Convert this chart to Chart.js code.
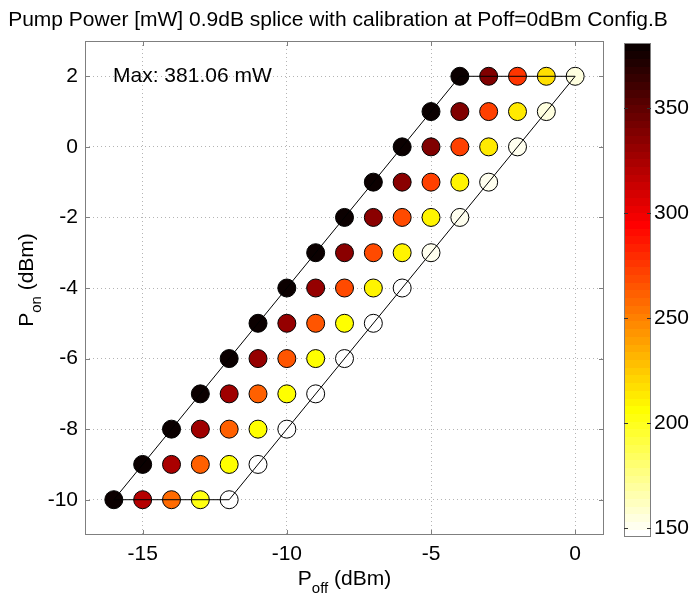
<!DOCTYPE html>
<html>
<head>
<meta charset="utf-8">
<script src="https://cdn.jsdelivr.net/npm/chart.js@4.4.0/dist/chart.umd.min.js"></script>
<style>
  html, body { margin: 0; padding: 0; background: #fff; }
  #wrap { width: 692px; height: 598px; }
</style>
</head>
<body>
<div id="wrap"><canvas id="pumpChart" width="692" height="598"></canvas></div>
<script>
// P_on levels (dBm), one row of measurements each
const pOnLevels = [-10, -9, -8, -7, -6, -5, -4, -3, -2, -1, 0, 1, 2];

// P_off values (dBm) for each row
const pOffRows = [
    [-16, -15, -14, -13, -12],
    [-15, -14, -13, -12, -11],
    [-14, -13, -12, -11, -10],
    [-13, -12, -11, -10, -9],
    [-12, -11, -10, -9, -8],
    [-11, -10, -9, -8, -7],
    [-10, -9, -8, -7, -6],
    [-9, -8, -7, -6, -5],
    [-8, -7, -6, -5, -4],
    [-7, -6, -5, -4, -3],
    [-6, -5, -4, -3, -2],
    [-5, -4, -3, -2, -1],
    [-4, -3, -2, -1, 0]
];

// pump power (mW), same layout as pOffRows
const pumpPowerRows = [
    [378, 322, 258, 204, 146],
    [379, 325, 260, 205, 147],
    [379, 326, 262, 206, 147],
    [380, 328, 263, 206, 148],
    [380, 330, 265, 207, 148],
    [380, 333, 267, 208, 149],
    [381, 333, 268, 209, 149],
    [381, 334, 269, 209, 150],
    [381, 335, 270, 210, 150],
    [381, 336, 271, 211, 151],
    [381, 337, 272, 212, 152],
    [381, 338, 274, 214, 154],
    [381.06, 340, 275, 216, 156]
];

// outline of the measured region
const outlineX = [-16, -4, 0, -12, -16];
const outlineY = [-10, 2, 2, -10, -10];

const xTicks = [-15, -10, -5, 0];
const yTicks = [-10, -8, -6, -4, -2, 0, 2];
const cbarTicks = [150, 200, 250, 300, 350];
const cMin = 145.7;
const cMax = 381.06;
const maxLabel = 'Max: 381.06 mW';

const fontFam = '"Liberation Sans", Arial, Helvetica, sans-serif';
const fs = 21;

// matlab hot(64), flipped so the max is black
function hotRgb(h) {
    const n = 24;
    const r = h < n ? (h + 1) / n : 1;
    const g = h < n ? 0 : (h < 2 * n ? (h - n + 1) / n : 1);
    const b = h < 2 * n ? 0 : (h - 2 * n + 1) / (64 - 2 * n);
    return 'rgb(' + Math.round(r * 255) + ',' + Math.round(g * 255) + ',' + Math.round(b * 255) + ')';
}
function colorFor(v) {
    let k = Math.floor((v - cMin) / (cMax - cMin) * 64);
    k = Math.max(0, Math.min(63, k));
    return hotRgb(63 - k);
}

const points = [];
const colors = [];
pOnLevels.forEach((y, i) => {
    pOffRows[i].forEach((x, j) => {
        points.push({ x: x, y: y });
        colors.push(colorFor(pumpPowerRows[i][j]));
    });
});
const outline = outlineX.map((x, i) => ({ x: x, y: outlineY[i] }));

function drawWithSub(ctx, parts, x0, base) {
    let w = 0;
    parts.forEach(p => { ctx.font = p[1] + 'px ' + fontFam; w += ctx.measureText(p[0]).width; });
    let x = x0 - w / 2;
    ctx.textAlign = 'left';
    ctx.textBaseline = 'alphabetic';
    parts.forEach(p => {
        ctx.font = p[1] + 'px ' + fontFam;
        ctx.fillText(p[0], x, base + p[2]);
        x += ctx.measureText(p[0]).width;
    });
}

const extras = {
    id: 'extras',
    afterDraw(chart) {
        const ctx = chart.ctx;
        const a = chart.chartArea;
        const xs = chart.scales.x, ys = chart.scales.y;
        ctx.save();

        // axes box
        ctx.strokeStyle = '#7f7f7f';
        ctx.lineWidth = 1;
        ctx.strokeRect(a.left + 0.5, a.top + 0.5, a.right - a.left - 1, a.bottom - a.top - 1);

        // inward tick marks
        ctx.beginPath();
        xTicks.forEach(v => {
            const px = Math.round(xs.getPixelForValue(v)) + 0.5;
            ctx.moveTo(px, a.bottom); ctx.lineTo(px, a.bottom - 5);
            ctx.moveTo(px, a.top); ctx.lineTo(px, a.top + 5);
        });
        yTicks.forEach(v => {
            const py = Math.round(ys.getPixelForValue(v)) + 0.5;
            ctx.moveTo(a.left, py); ctx.lineTo(a.left + 5, py);
            ctx.moveTo(a.right, py); ctx.lineTo(a.right - 5, py);
        });
        ctx.stroke();

        ctx.fillStyle = '#000';
        // title
        ctx.font = fs + 'px ' + fontFam;
        ctx.textAlign = 'center';
        ctx.textBaseline = 'alphabetic';
        ctx.fillText('Pump Power [mW] 0.9dB splice with calibration at Poff=0dBm Config.B', 338, 26);

        // max label
        ctx.textAlign = 'left';
        ctx.textBaseline = 'middle';
        ctx.fillText(maxLabel, 113, ys.getPixelForValue(2));

        // x axis title with subscript
        drawWithSub(ctx, [['P', fs, 0], ['off', 15, 8], [' (dBm)', fs, 0]], (a.left + a.right) / 2, 585);

        // y axis title, rotated
        ctx.save();
        ctx.translate(33, 280);
        ctx.rotate(-Math.PI / 2);
        drawWithSub(ctx, [['P', fs, 0], ['on', 15, 8], [' (dBm)', fs, 0]], 0, 0);
        ctx.restore();

        // colorbar
        const cbL = 624, cbR = 651, cbT = 43, cbB = 537;
        const valToY = v => cbB - (v - cMin) / (cMax - cMin) * (cbB - cbT);
        for (let k = 0; k < 64; k++) {
            const y0 = cbB - k / 64 * (cbB - cbT);
            const y1 = cbB - (k + 1) / 64 * (cbB - cbT);
            ctx.fillStyle = hotRgb(63 - k);
            ctx.fillRect(cbL, Math.floor(y1), cbR - cbL, Math.ceil(y0) - Math.floor(y1));
        }
        ctx.strokeStyle = '#7f7f7f';
        ctx.strokeRect(cbL + 0.5, cbT + 0.5, cbR - cbL - 1, cbB - cbT - 1);
        ctx.strokeStyle = '#333';
        ctx.beginPath();
        cbarTicks.forEach(v => {
            const py = Math.round(valToY(v)) + 0.5;
            ctx.moveTo(cbL, py); ctx.lineTo(cbL + 4, py);
            ctx.moveTo(cbR, py); ctx.lineTo(cbR - 4, py);
        });
        ctx.stroke();
        ctx.fillStyle = '#000';
        ctx.font = fs + 'px ' + fontFam;
        ctx.textAlign = 'left';
        ctx.textBaseline = 'middle';
        cbarTicks.forEach(v => ctx.fillText(String(v), 654, valToY(v)));

        ctx.restore();
    }
};

new Chart(document.getElementById('pumpChart').getContext('2d'), {
    type: 'scatter',
    data: {
        datasets: [{
            type: 'line',
            data: outline,
            borderColor: '#000',
            borderWidth: 1,
            pointRadius: 0,
            fill: false,
            tension: 0,
            order: 0
        }, {
            data: points,
            backgroundColor: colors,
            borderColor: '#000',
            borderWidth: 1,
            pointRadius: 9,
            pointHoverRadius: 9,
            order: 1
        }]
    },
    options: {
        responsive: false,
        animation: false,
        events: [],
        layout: { padding: { top: 41, right: 88, left: 0, bottom: 0 } },
        plugins: { legend: { display: false }, tooltip: { enabled: false } },
        scales: {
            x: {
                type: 'linear',
                min: -17,
                max: 1,
                afterBuildTicks: s => { s.ticks = xTicks.map(v => ({ value: v })); },
                afterFit: s => { s.height = 63; },
                grid: { color: '#b4b4b4', drawTicks: false },
                border: { display: false, dash: [1, 3] },
                ticks: { color: '#000', padding: 7, font: { size: fs, family: fontFam } }
            },
            y: {
                type: 'linear',
                min: -11,
                max: 3,
                afterBuildTicks: s => { s.ticks = yTicks.map(v => ({ value: v })); },
                afterFit: s => { s.width = 85; },
                grid: { color: '#b4b4b4', drawTicks: false },
                border: { display: false, dash: [1, 3] },
                ticks: { color: '#000', padding: 7, font: { size: fs, family: fontFam } }
            }
        }
    },
    plugins: [extras]
});
</script>
</body>
</html>
